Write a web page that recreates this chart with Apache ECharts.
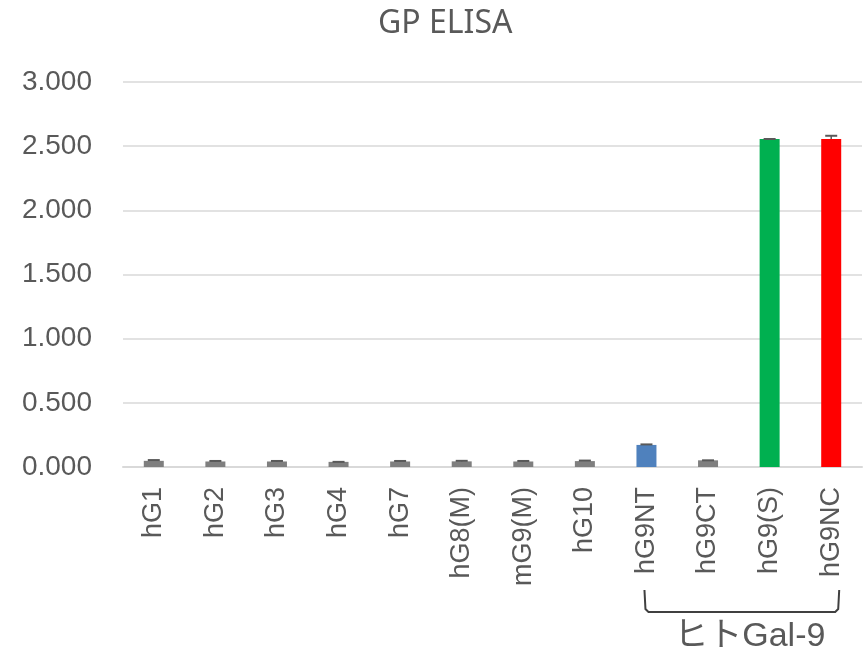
<!DOCTYPE html>
<html>
<head>
<meta charset="utf-8">
<script src="https://cdn.jsdelivr.net/npm/echarts@6/dist/echarts.min.js"></script>
<style>
  html, body { margin: 0; padding: 0; background: #fff; }
  #chart { width: 863px; height: 656px; }
</style>
</head>
<body>
<div id="chart"></div>
<script>
// Galectin samples and their ELISA readings
const categories = ['hG1', 'hG2', 'hG3', 'hG4', 'hG7', 'hG8(M)', 'mG9(M)', 'hG10', 'hG9NT', 'hG9CT', 'hG9(S)', 'hG9NC'];
const values = [0.048, 0.043, 0.043, 0.040, 0.043, 0.044, 0.043, 0.046, 0.172, 0.052, 2.556, 2.556];
const errors = [0.006, 0.004, 0.004, 0.000, 0.004, 0.004, 0.004, 0.004, 0.004, 0.000, 0.000, 0.025];
const barColors = ['#7f7f7f', '#7f7f7f', '#7f7f7f', '#7f7f7f', '#7f7f7f', '#7f7f7f', '#7f7f7f', '#7f7f7f', '#4f81bd', '#7f7f7f', '#00b050', '#ff0000'];
const yTicks = { min: 0, max: 3, interval: 0.5 };
const groupLabel = 'ヒトGal-9';
const groupFrom = 'hG9NT';
const groupTo = 'hG9NC';

const TITLE_FONT = '"Noto Sans", "Noto Sans CJK JP", sans-serif';
const FONT = '"Liberation Sans", Arial, "Noto Sans CJK JP", sans-serif';
const TEXT = '#595959';

const chart = echarts.init(document.getElementById('chart'), null, { renderer: 'canvas' });

const errorData = values.map((v, i) => [i, v, errors[i]]);

chart.setOption({
  animation: false,
  title: {
    text: 'GP ELISA',
    left: 373,
    top: 3,
    textStyle: { fontFamily: TITLE_FONT, fontSize: 32, fontWeight: 'normal', color: TEXT }
  },
  grid: { left: 123, right: 1, top: 82, bottom: 189, containLabel: false },
  xAxis: {
    type: 'category',
    data: categories,
    axisLine: { lineStyle: { color: '#d9d9d9', width: 2 } },
    axisTick: { show: false },
    axisLabel: {
      rotate: 90,
      margin: 20,
      interval: 0,
      fontFamily: FONT,
      fontSize: 27,
      color: TEXT
    }
  },
  yAxis: {
    type: 'value',
    min: yTicks.min,
    max: yTicks.max,
    interval: yTicks.interval,
    axisLine: { show: false },
    axisTick: { show: false },
    splitLine: { lineStyle: { color: '#d9d9d9', width: 1.5 } },
    axisLabel: {
      margin: 31,
      fontFamily: FONT,
      fontSize: 28,
      color: TEXT,
      formatter: v => v.toFixed(3)
    }
  },
  series: [
    {
      type: 'bar',
      barWidth: 20,
      data: values.map((v, i) => ({ value: v, itemStyle: { color: barColors[i] } }))
    },
    {
      type: 'custom',
      data: errorData,
      z: 5,
      renderItem: (params, api) => {
        const i = api.value(0);
        const v = api.value(1);
        const e = api.value(2);
        const top = api.coord([i, v + e]);
        const base = api.coord([i, v]);
        const half = 6;
        return {
          type: 'group',
          children: [
            { type: 'line', shape: { x1: top[0], y1: base[1], x2: top[0], y2: top[1] }, style: { stroke: '#595959', lineWidth: 1.5 } },
            { type: 'line', shape: { x1: top[0] - half, y1: top[1], x2: top[0] + half, y2: top[1] }, style: { stroke: '#595959', lineWidth: 2 } }
          ]
        };
      }
    }
  ]
});

// Bracket grouping the human Gal-9 constructs under the axis labels
function drawBracket() {
  const a = chart.convertToPixel({ xAxisIndex: 0 }, groupFrom);
  const b = chart.convertToPixel({ xAxisIndex: 0 }, groupTo);
  const axisY = chart.convertToPixel({ yAxisIndex: 0 }, 0);
  const x1 = a - 2, x2 = b + 8;
  const yTop = axisY + 123, yBot = axisY + 145;
  chart.setOption({
    graphic: [
      {
        type: 'polyline',
        shape: { points: [[x1, yTop], [x1 + 1, yBot - 3], [x1 + 4, yBot], [x2 - 4, yBot], [x2 - 1, yBot - 3], [x2, yTop]] },
        style: { stroke: '#404040', lineWidth: 2, fill: null }
      },
      {
        type: 'text',
        x: (x1 + x2) / 2 + 8,
        y: yBot + 25,
        style: {
          text: groupLabel,
          fontFamily: FONT,
          fontSize: 34,
          fill: TEXT,
          align: 'center',
          verticalAlign: 'middle'
        }
      }
    ]
  });
}
drawBracket();
</script>
</body>
</html>
